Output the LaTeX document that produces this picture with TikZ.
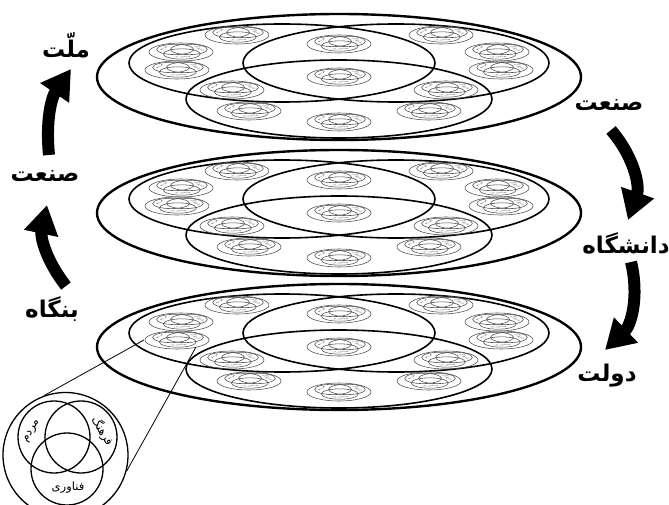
\documentclass[tikz,border=0pt]{standalone}
\usepackage{fontspec}
\newfontfamily\farsi[Script=Arabic]{DejaVu Sans}
\TeXXeTstate=1
\usetikzlibrary{arrows.meta}
\newcommand{\fa}[1]{\farsi\beginR #1\endR}
\newcommand{\trivenn}[1]{% name prefix   (three overlapping circles and their words)
  \draw (-11.5,18) circle (36);
  \draw (15.5,18) circle (36);
  \draw (1.5,-14) circle (36);
  \node[venntext,rotate=60] (#1-a) at (-33.5,24) {\fa{مردم}};
  \node[venntext,rotate=-60] (#1-b) at (37,24) {\fa{فرهنگ}};
  \node[venntext] (#1-c) at (2.5,-33) {\fa{فناوری}};}
\newcommand{\plate}[3]{% x, y, name   (rim, three fields, 13 small copies)
  \draw[rim] (#1,#2) ellipse [x radius=242, y radius=63];
  \draw[field] (#1-57,#2+14) ellipse [x radius=153, y radius=39];
  \draw[field] (#1+57,#2+14) ellipse [x radius=153, y radius=39];
  \draw[field] (#1,#2-22) ellipse [x radius=153, y radius=39];
  \foreach \dx/\dy [count=\k] in {-102/42,0/33,102/42,-158/25,158/25,-162/7,162/7,0/0,-107/-13,107/-13,-90/-34,90/-34,0/-45}
    {\begin{scope}[shift={(#1+\dx,#2+\dy)},xscale=0.512,yscale=0.144,motif]
       \draw (0,0) circle (62.5);
       \trivenn{#3-\k}
     \end{scope}}
  \coordinate (#3) at (#1,#2);}

\begin{document}
\begin{tikzpicture}[x=1pt,y=1pt,
  rim/.style={line width=2.4pt},
  field/.style={line width=1.6pt},
  motif/.style={line width=0.55pt,black!70,every node/.append style={transform shape}},
  venntext/.style={font=\fontsize{11.5}{12}\selectfont,inner sep=0},
  tag/.style={font=\fontsize{23}{26}\selectfont\bfseries,inner sep=0},
  bigarrow/.style={line width=12pt,-{Triangle[length=29pt,width=33pt]}}]
  \useasboundingbox (0,0) rectangle (669,-505);
  % three plates
  \plate{339}{-77}{top}
  \plate{339}{-213}{mid}
  \plate{339}{-347}{low}
  % left column
  \node[tag] (mellat) at (66,-45) {\fa{ملّت}};
  \node[tag] (sanatL) at (45,-176) {\fa{صنعت}};
  \node[tag] (bongah) at (52,-309) {\fa{بنگاه}};
  \draw[bigarrow] ([shift={(14,23)}]bongah.center) to[bend left=25] ([shift={(2,-29)}]sanatL.center);
  \draw[bigarrow] ([shift={(4,21)}]sanatL.center) to[bend left=20] ([shift={(5,-24)}]mellat.center);
  % right column
  \node[tag] (sanatR) at (609,-105) {\fa{صنعت}};
  \node[tag] (daneshgah) at (626,-243) {\fa{دانشگاه}};
  \node[tag] (dolat) at (607,-376) {\fa{دولت}};
  \draw[bigarrow] ([shift={(2,-25)}]sanatR.center) to[bend left=30] ([shift={(2,23)}]daneshgah.center);
  \draw[bigarrow] ([shift={(5,-19)}]daneshgah.center) to[bend left=30] ([shift={(-2,26)}]dolat.center);
  % magnified copy
  \node[circle,draw,line width=1.3pt,minimum size=125pt,inner sep=0] (lens) at (65.5,-455) {};
  \begin{scope}[shift={(65.5,-455)},line width=1.3pt]
    \trivenn{big}
  \end{scope}
  \coordinate (zoomw) at (144,-340);
  \coordinate (zooms) at (196,-347);
  \draw[line width=0.8pt] (lens.110) -- (zoomw);
  \draw[line width=0.8pt] (lens.-15) -- (zooms);
\end{tikzpicture}
\end{document}
